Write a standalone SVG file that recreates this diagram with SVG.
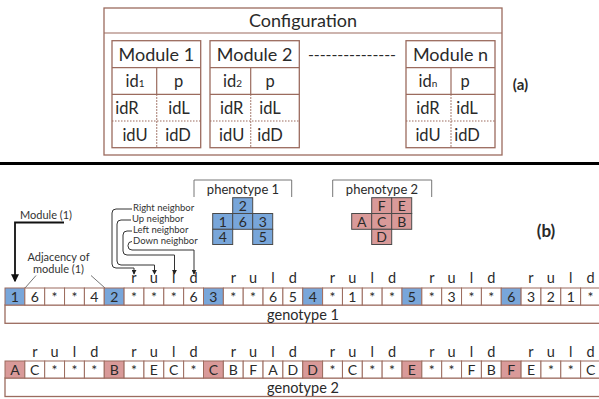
<svg xmlns="http://www.w3.org/2000/svg" width="599" height="399" viewBox="0 0 599 399">
<style>
text{font-family:Lato,"Liberation Sans",sans-serif;fill:#2a2a2a}
.frame{fill:#fff;stroke:#9b6b5e;stroke-width:1.3}
.ln{stroke:#9b6b5e;stroke-width:1.2;fill:none}
.dot{stroke:#9b6b5e;stroke-width:1.2;stroke-dasharray:1.5 1.5;fill:none}
.hd{font-size:18px;text-anchor:middle}
.cl{font-size:16.5px;text-anchor:middle}
.sub{font-size:10px}
.cell{fill:#fff;stroke:#9b6b5e;stroke-width:1}
.blue{fill:#78a6da;stroke:#9b6b5e;stroke-width:1}
.red{fill:#d99a99;stroke:#9b6b5e;stroke-width:1}
.pb{fill:#78a6da;stroke:#4a4a4a;stroke-width:1}
.pr{fill:#d99a99;stroke:#4a4a4a;stroke-width:1}
.cv{font-size:14px;text-anchor:middle}
.lab{font-size:14.5px;text-anchor:middle}
.ph{font-size:13px;text-anchor:middle}
.sm{font-size:9.5px;fill:#333}
.ann{font-size:11px;fill:#333}
.con{stroke:#333;stroke-width:1;fill:none}
.thin{stroke:#777;stroke-width:1;fill:none}
</style>
<defs>
<marker id="ahs" viewBox="0 0 6 6" markerWidth="5" markerHeight="5" refX="5" refY="3" orient="auto">
<path d="M0,0 L6,3 L0,6 Z" fill="#222"/>
</marker>
<marker id="ahb" viewBox="0 0 6 6" markerWidth="4.5" markerHeight="4.5" refX="5" refY="3" orient="auto">
<path d="M0,0 L6,3 L0,6 Z" fill="#111"/>
</marker>
</defs>
<rect width="599" height="399" fill="#fff"/>

<g id="configuration">
<rect class="frame" x="104" y="8" width="398" height="147"/>
<line class="ln" x1="104" y1="33" x2="502" y2="33"/>
<text x="303" y="27" class="hd" font-size="19">Configuration</text>
</g>

<g id="module1">
<rect class="frame" x="112" y="40.7" width="88.7" height="107"/>
<line class="ln" x1="112" y1="67.7" x2="200.7" y2="67.7"/>
<line class="ln" x1="112" y1="94.3" x2="200.7" y2="94.3"/>
<line class="dot" x1="112" y1="121" x2="200.7" y2="121"/>
<line class="ln" x1="156.7" y1="67.7" x2="156.7" y2="94.3"/>
<line class="dot" x1="156.7" y1="94.3" x2="156.7" y2="147.7"/>
<text x="156.4" y="60.5" class="hd">Module 1</text>
<text x="135" y="87" class="cl">id<tspan class="sub">1</tspan></text>
<text x="178.7" y="87" class="cl">p</text>
<text x="127" y="113.5" class="cl">idR</text>
<text x="179" y="113.5" class="cl">idL</text>
<text x="135" y="140.5" class="cl">idU</text>
<text x="178" y="140.5" class="cl">idD</text>
</g>

<g id="module2">
<rect class="frame" x="210" y="40.7" width="89.3" height="107"/>
<line class="ln" x1="210" y1="67.7" x2="299.3" y2="67.7"/>
<line class="ln" x1="210" y1="94.3" x2="299.3" y2="94.3"/>
<line class="dot" x1="210" y1="121" x2="299.3" y2="121"/>
<line class="ln" x1="250.7" y1="67.7" x2="250.7" y2="94.3"/>
<line class="dot" x1="250.7" y1="94.3" x2="250.7" y2="147.7"/>
<text x="254.6" y="60.5" class="hd">Module 2</text>
<text x="232.5" y="87" class="cl">id<tspan class="sub">2</tspan></text>
<text x="270" y="87" class="cl">p</text>
<text x="231.7" y="113.5" class="cl">idR</text>
<text x="270" y="113.5" class="cl">idL</text>
<text x="231.7" y="140.5" class="cl">idU</text>
<text x="270" y="140.5" class="cl">idD</text>
</g>

<g id="dots">
<text x="308" y="60" font-size="16" textLength="88" lengthAdjust="spacing">---------------</text>
</g>

<g id="modulen">
<rect class="frame" x="406" y="40.7" width="89" height="107"/>
<line class="ln" x1="406" y1="67.7" x2="495" y2="67.7"/>
<line class="ln" x1="406" y1="94.3" x2="495" y2="94.3"/>
<line class="dot" x1="406" y1="121" x2="495" y2="121"/>
<line class="ln" x1="451" y1="67.7" x2="451" y2="94.3"/>
<line class="dot" x1="451" y1="94.3" x2="451" y2="147.7"/>
<text x="450.5" y="60.5" class="hd">Module n</text>
<text x="428" y="87" class="cl">id<tspan class="sub">n</tspan></text>
<text x="465" y="87" class="cl">p</text>
<text x="428" y="113.5" class="cl">idR</text>
<text x="467" y="113.5" class="cl">idL</text>
<text x="428" y="140.5" class="cl">idU</text>
<text x="467" y="140.5" class="cl">idD</text>
</g>

<text x="520.5" y="90" font-size="15" font-weight="bold" text-anchor="middle">(a)</text>

<line x1="0" y1="163.5" x2="599" y2="163.5" stroke="#000" stroke-width="3"/>

<text x="546" y="237" font-size="17" font-weight="bold" text-anchor="middle">(b)</text>

<g id="phenotype1">
<path class="thin" d="M194,197 V180 H291.7 V197" stroke="#555"/>
<text x="243" y="193.5" class="ph">phenotype 1</text>
<rect class="pb" x="232.7" y="197.7" width="20" height="15.8"/>
<rect class="pb" x="212.7" y="213.5" width="20" height="15.8"/>
<rect class="pb" x="232.7" y="213.5" width="20" height="15.8"/>
<rect class="pb" x="252.7" y="213.5" width="20" height="15.8"/>
<rect class="pb" x="212.7" y="229.3" width="20" height="15.2"/>
<rect class="pb" x="252.7" y="229.3" width="20" height="15.2"/>
<text x="242.7" y="210.8" class="cv">2</text>
<text x="222.7" y="226.6" class="cv">1</text>
<text x="242.7" y="226.6" class="cv">6</text>
<text x="262.7" y="226.6" class="cv">3</text>
<text x="222.7" y="242" class="cv">4</text>
<text x="262.7" y="242" class="cv">5</text>
</g>

<g id="phenotype2">
<path class="thin" d="M332.7,197 V180 H431.7 V197" stroke="#555"/>
<text x="382" y="193.5" class="ph">phenotype 2</text>
<rect class="pr" x="371.7" y="197.7" width="20" height="15.8"/>
<rect class="pr" x="391.7" y="197.7" width="20" height="15.8"/>
<rect class="pr" x="351.7" y="213.5" width="20" height="15.8"/>
<rect class="pr" x="371.7" y="213.5" width="20" height="15.8"/>
<rect class="pr" x="391.7" y="213.5" width="20" height="15.8"/>
<rect class="pr" x="371.7" y="229.3" width="20" height="15.2"/>
<text x="381.7" y="210.8" class="cv">F</text>
<text x="401.7" y="210.8" class="cv">E</text>
<text x="361.7" y="226.6" class="cv">A</text>
<text x="381.7" y="226.6" class="cv">C</text>
<text x="401.7" y="226.6" class="cv">B</text>
<text x="381.7" y="242" class="cv">D</text>
</g>

<g id="annotations">
<text x="20" y="219" class="ann">Module (1)</text>
<text x="58.5" y="261" class="ann" text-anchor="middle">Adjacency of</text>
<text x="58.5" y="273" class="ann" text-anchor="middle">module (1)</text>
<text x="133" y="211" class="sm">Right neighbor</text>
<text x="132" y="222" class="sm">Up neighbor</text>
<text x="133" y="233" class="sm">Left neighbor</text>
<text x="133" y="244" class="sm">Down neighbor</text>
</g>

<g id="connectors">
<path d="M64,222.5 H15 V281" stroke="#111" stroke-width="1.8" fill="none" marker-end="url(#ahb)"/>
<path class="thin" d="M25,288 L36,275.5"/>
<path class="thin" d="M91,275.5 L105,288"/>
<path class="con" d="M132,209 H116 Q112,209 112,213 V264 Q112,268 116,268 H134 V274" marker-end="url(#ahs)"/>
<path class="con" d="M131,220 H121 Q117,220 117,224 V261 Q117,265 121,265 H154.5 V274" marker-end="url(#ahs)"/>
<path class="con" d="M132,231 H127 Q123,231 123,235 V251 Q123,255 127,255 H174.5 V274" marker-end="url(#ahs)"/>
<path class="con" d="M132,241.5 Q128,241.5 128,245.5 V246 Q128,250 132,250 H194 V274" marker-end="url(#ahs)"/>
</g>

<g id="genotype1">
<rect class="frame" x="5" y="305" width="600" height="18.3"/>
<text x="303" y="320" class="lab">genotype 1</text>
<g>
<rect class="blue" x="5" y="288" width="19.85" height="17"/>
<rect class="cell" x="24.85" y="288" width="19.85" height="17"/>
<rect class="cell" x="44.7" y="288" width="19.85" height="17"/>
<rect class="cell" x="64.55" y="288" width="19.85" height="17"/>
<rect class="cell" x="84.4" y="288" width="19.85" height="17"/>
<rect class="blue" x="104.25" y="288" width="19.85" height="17"/>
<rect class="cell" x="124.1" y="288" width="19.85" height="17"/>
<rect class="cell" x="143.95" y="288" width="19.85" height="17"/>
<rect class="cell" x="163.8" y="288" width="19.85" height="17"/>
<rect class="cell" x="183.65" y="288" width="19.85" height="17"/>
<rect class="blue" x="203.5" y="288" width="19.85" height="17"/>
<rect class="cell" x="223.35" y="288" width="19.85" height="17"/>
<rect class="cell" x="243.2" y="288" width="19.85" height="17"/>
<rect class="cell" x="263.05" y="288" width="19.85" height="17"/>
<rect class="cell" x="282.9" y="288" width="19.85" height="17"/>
<rect class="blue" x="302.75" y="288" width="19.85" height="17"/>
<rect class="cell" x="322.6" y="288" width="19.85" height="17"/>
<rect class="cell" x="342.45" y="288" width="19.85" height="17"/>
<rect class="cell" x="362.3" y="288" width="19.85" height="17"/>
<rect class="cell" x="382.15" y="288" width="19.85" height="17"/>
<rect class="blue" x="402" y="288" width="19.85" height="17"/>
<rect class="cell" x="421.85" y="288" width="19.85" height="17"/>
<rect class="cell" x="441.7" y="288" width="19.85" height="17"/>
<rect class="cell" x="461.55" y="288" width="19.85" height="17"/>
<rect class="cell" x="481.4" y="288" width="19.85" height="17"/>
<rect class="blue" x="501.25" y="288" width="19.85" height="17"/>
<rect class="cell" x="521.1" y="288" width="19.85" height="17"/>
<rect class="cell" x="540.95" y="288" width="19.85" height="17"/>
<rect class="cell" x="560.8" y="288" width="19.85" height="17"/>
<rect class="cell" x="580.65" y="288" width="19.85" height="17"/>
</g>
<g>
<text x="14.9" y="301.5" class="cv">1</text>
<text x="34.8" y="301.5" class="cv">6</text>
<text x="54.6" y="301.5" class="cv">*</text>
<text x="74.5" y="301.5" class="cv">*</text>
<text x="94.3" y="301.5" class="cv">4</text>
<text x="114.2" y="301.5" class="cv">2</text>
<text x="134" y="301.5" class="cv">*</text>
<text x="153.9" y="301.5" class="cv">*</text>
<text x="173.7" y="301.5" class="cv">*</text>
<text x="193.6" y="301.5" class="cv">6</text>
<text x="213.4" y="301.5" class="cv">3</text>
<text x="233.3" y="301.5" class="cv">*</text>
<text x="253.1" y="301.5" class="cv">*</text>
<text x="273" y="301.5" class="cv">6</text>
<text x="292.8" y="301.5" class="cv">5</text>
<text x="312.7" y="301.5" class="cv">4</text>
<text x="332.5" y="301.5" class="cv">*</text>
<text x="352.4" y="301.5" class="cv">1</text>
<text x="372.2" y="301.5" class="cv">*</text>
<text x="392.1" y="301.5" class="cv">*</text>
<text x="411.9" y="301.5" class="cv">5</text>
<text x="431.8" y="301.5" class="cv">*</text>
<text x="451.6" y="301.5" class="cv">3</text>
<text x="471.5" y="301.5" class="cv">*</text>
<text x="491.3" y="301.5" class="cv">*</text>
<text x="511.2" y="301.5" class="cv">6</text>
<text x="531" y="301.5" class="cv">3</text>
<text x="550.9" y="301.5" class="cv">2</text>
<text x="570.7" y="301.5" class="cv">1</text>
<text x="590.6" y="301.5" class="cv">*</text>
</g>
<g>
<text x="134" y="283" class="lab">r</text><text x="153.9" y="283" class="lab">u</text><text x="173.7" y="283" class="lab">l</text><text x="193.6" y="283" class="lab">d</text>
<text x="233.3" y="283" class="lab">r</text><text x="253.1" y="283" class="lab">u</text><text x="273" y="283" class="lab">l</text><text x="292.8" y="283" class="lab">d</text>
<text x="332.5" y="283" class="lab">r</text><text x="352.4" y="283" class="lab">u</text><text x="372.2" y="283" class="lab">l</text><text x="392.1" y="283" class="lab">d</text>
<text x="431.8" y="283" class="lab">r</text><text x="451.6" y="283" class="lab">u</text><text x="471.5" y="283" class="lab">l</text><text x="491.3" y="283" class="lab">d</text>
<text x="531" y="283" class="lab">r</text><text x="550.9" y="283" class="lab">u</text><text x="570.7" y="283" class="lab">l</text><text x="590.6" y="283" class="lab">d</text>
</g>
</g>

<g id="genotype2">
<rect class="frame" x="5" y="378" width="600" height="18.5"/>
<text x="303" y="392.5" class="lab">genotype 2</text>
<g>
<rect class="red" x="5" y="361" width="19.85" height="17"/>
<rect class="cell" x="24.85" y="361" width="19.85" height="17"/>
<rect class="cell" x="44.7" y="361" width="19.85" height="17"/>
<rect class="cell" x="64.55" y="361" width="19.85" height="17"/>
<rect class="cell" x="84.4" y="361" width="19.85" height="17"/>
<rect class="red" x="104.25" y="361" width="19.85" height="17"/>
<rect class="cell" x="124.1" y="361" width="19.85" height="17"/>
<rect class="cell" x="143.95" y="361" width="19.85" height="17"/>
<rect class="cell" x="163.8" y="361" width="19.85" height="17"/>
<rect class="cell" x="183.65" y="361" width="19.85" height="17"/>
<rect class="red" x="203.5" y="361" width="19.85" height="17"/>
<rect class="cell" x="223.35" y="361" width="19.85" height="17"/>
<rect class="cell" x="243.2" y="361" width="19.85" height="17"/>
<rect class="cell" x="263.05" y="361" width="19.85" height="17"/>
<rect class="cell" x="282.9" y="361" width="19.85" height="17"/>
<rect class="red" x="302.75" y="361" width="19.85" height="17"/>
<rect class="cell" x="322.6" y="361" width="19.85" height="17"/>
<rect class="cell" x="342.45" y="361" width="19.85" height="17"/>
<rect class="cell" x="362.3" y="361" width="19.85" height="17"/>
<rect class="cell" x="382.15" y="361" width="19.85" height="17"/>
<rect class="red" x="402" y="361" width="19.85" height="17"/>
<rect class="cell" x="421.85" y="361" width="19.85" height="17"/>
<rect class="cell" x="441.7" y="361" width="19.85" height="17"/>
<rect class="cell" x="461.55" y="361" width="19.85" height="17"/>
<rect class="cell" x="481.4" y="361" width="19.85" height="17"/>
<rect class="red" x="501.25" y="361" width="19.85" height="17"/>
<rect class="cell" x="521.1" y="361" width="19.85" height="17"/>
<rect class="cell" x="540.95" y="361" width="19.85" height="17"/>
<rect class="cell" x="560.8" y="361" width="19.85" height="17"/>
<rect class="cell" x="580.65" y="361" width="19.85" height="17"/>
</g>
<g>
<text x="14.9" y="374.5" class="cv">A</text>
<text x="34.8" y="374.5" class="cv">C</text>
<text x="54.6" y="374.5" class="cv">*</text>
<text x="74.5" y="374.5" class="cv">*</text>
<text x="94.3" y="374.5" class="cv">*</text>
<text x="114.2" y="374.5" class="cv">B</text>
<text x="134" y="374.5" class="cv">*</text>
<text x="153.9" y="374.5" class="cv">E</text>
<text x="173.7" y="374.5" class="cv">C</text>
<text x="193.6" y="374.5" class="cv">*</text>
<text x="213.4" y="374.5" class="cv">C</text>
<text x="233.3" y="374.5" class="cv">B</text>
<text x="253.1" y="374.5" class="cv">F</text>
<text x="273" y="374.5" class="cv">A</text>
<text x="292.8" y="374.5" class="cv">D</text>
<text x="312.7" y="374.5" class="cv">D</text>
<text x="332.5" y="374.5" class="cv">*</text>
<text x="352.4" y="374.5" class="cv">C</text>
<text x="372.2" y="374.5" class="cv">*</text>
<text x="392.1" y="374.5" class="cv">*</text>
<text x="411.9" y="374.5" class="cv">E</text>
<text x="431.8" y="374.5" class="cv">*</text>
<text x="451.6" y="374.5" class="cv">*</text>
<text x="471.5" y="374.5" class="cv">F</text>
<text x="491.3" y="374.5" class="cv">B</text>
<text x="511.2" y="374.5" class="cv">F</text>
<text x="531" y="374.5" class="cv">E</text>
<text x="550.9" y="374.5" class="cv">*</text>
<text x="570.7" y="374.5" class="cv">*</text>
<text x="590.6" y="374.5" class="cv">C</text>
</g>
<g>
<text x="34.8" y="357" class="lab">r</text><text x="54.6" y="357" class="lab">u</text><text x="74.5" y="357" class="lab">l</text><text x="94.3" y="357" class="lab">d</text>
<text x="134" y="357" class="lab">r</text><text x="153.9" y="357" class="lab">u</text><text x="173.7" y="357" class="lab">l</text><text x="193.6" y="357" class="lab">d</text>
<text x="233.3" y="357" class="lab">r</text><text x="253.1" y="357" class="lab">u</text><text x="273" y="357" class="lab">l</text><text x="292.8" y="357" class="lab">d</text>
<text x="332.5" y="357" class="lab">r</text><text x="352.4" y="357" class="lab">u</text><text x="372.2" y="357" class="lab">l</text><text x="392.1" y="357" class="lab">d</text>
<text x="431.8" y="357" class="lab">r</text><text x="451.6" y="357" class="lab">u</text><text x="471.5" y="357" class="lab">l</text><text x="491.3" y="357" class="lab">d</text>
<text x="531" y="357" class="lab">r</text><text x="550.9" y="357" class="lab">u</text><text x="570.7" y="357" class="lab">l</text><text x="590.6" y="357" class="lab">d</text>
</g>
</g>
</svg>
